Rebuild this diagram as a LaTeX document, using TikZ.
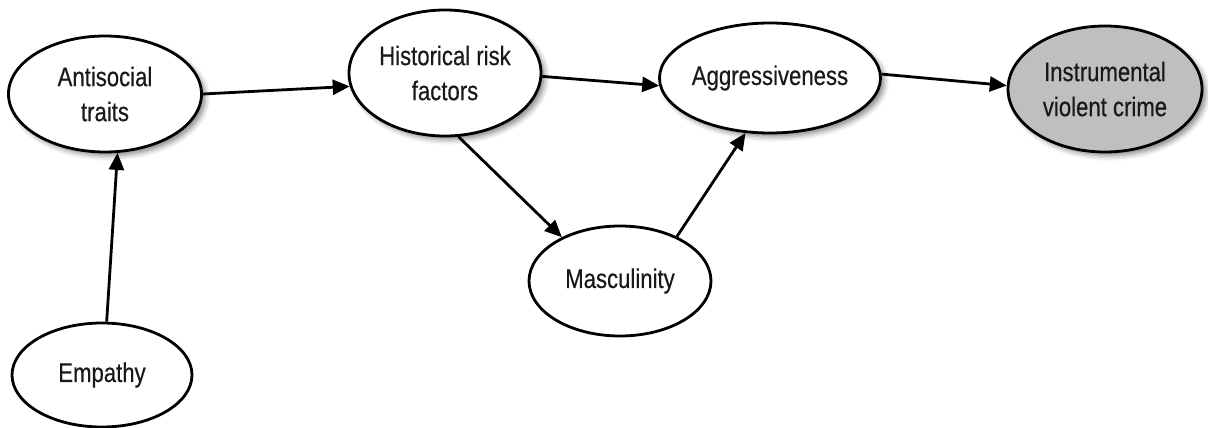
\documentclass[tikz,border=0pt]{standalone}
\usepackage{fontspec}
\setmainfont{Liberation Sans}[FakeStretch=0.82,FakeBold=0.4]
\usetikzlibrary{shapes.geometric,arrows.meta,shadows.blur}
\tikzset{
  var/.style={ellipse, draw=black, line width=2.8pt, fill=white, inner sep=0pt,
    align=center, font=\fontsize{27}{35}\selectfont, text=black!90},
  shad/.style={blur shadow={shadow xshift=4pt, shadow yshift=-4pt,
    shadow blur radius=5pt, shadow opacity=45}},
  link/.style={line width=2.8pt, -{Triangle[length=17pt,width=15pt]}},
}
\begin{document}
\begin{tikzpicture}[x=1pt,y=-1pt]
\useasboundingbox (0,0) rectangle (1208,428);
\node[var, shad, minimum width=193pt, minimum height=116pt] (A) at (105,94) {Antisocial\\traits};
\node[var, shad, minimum width=192pt, minimum height=126pt] (H) at (445,73) {Historical risk\\factors};
\node[var, shad, minimum width=180pt, minimum height=110pt] (G) at (770,78) {Aggressiveness};
\node[var, shad, fill=gray!50, minimum width=194pt, minimum height=126pt] (I) at (1105,89) {Instrumental\\violent crime};
\node[var, minimum width=182pt, minimum height=110pt] (M) at (620,281) {Masculinity};
\node[var, minimum width=180pt, minimum height=104pt] (E) at (102,375) {Empathy};
\draw[link] (A.east) -- (H.188);
\draw[link] (E.85) -- (A.282);
\draw[link] (H.358) -- (G.184);
\draw[link] (G.2) -- (I.178);
\draw[link] (H.282) -- (M.143);
\draw[link] (M.38) -- (G.246);
\end{tikzpicture}
\end{document}
